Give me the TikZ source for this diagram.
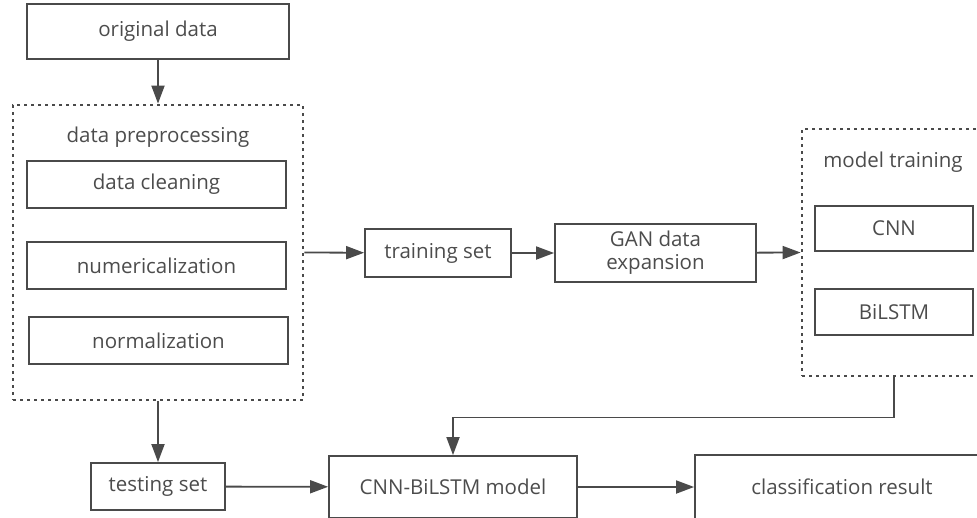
\documentclass[tikz,border=0pt]{standalone}
\usepackage{fontspec}
\setmainfont{Open Sans}
\usetikzlibrary{arrows.meta}
\definecolor{linegray}{HTML}{4A4A4A}
\definecolor{textgray}{HTML}{4C4C4C}
\tikzset{
    box/.style={draw=linegray, line width=1.8pt, rectangle, inner sep=0pt,
        text=textgray, font=\fontsize{20.5}{23}\selectfont, align=center},
    groupbox/.style={draw=linegray, line width=2.8pt, dash pattern=on 3pt off 4pt,
        rectangle, inner sep=0pt},
    grouplabel/.style={text=textgray, font=\fontsize{20.5}{23}\selectfont},
    arr/.style={draw=linegray, line width=1.8pt, -{Triangle[length=18pt, width=13pt]}}
}
\begin{document}
\begin{tikzpicture}[x=1pt, y=-1pt]
    \path[use as bounding box, clip] (0,0) rectangle (977,517);

    \node[box, minimum width=262pt, minimum height=55pt] (orig) at (158,31.5) {original data};

    % preprocessing group
    \node[groupbox, minimum width=290pt, minimum height=295pt] (prep) at (158,252.5) {};
    \node[grouplabel] (preplabel) at (158,137) {data preprocessing};
    \node[box, minimum width=259pt, minimum height=47pt] (clean) at (156.5,184.5) {data cleaning};
    \node[box, minimum width=259pt, minimum height=47pt] (numer) at (156.5,265.5) {numericalization};
    \node[box, minimum width=259pt, minimum height=47pt] (norm) at (158.5,340.5) {normalization};

    \node[box, minimum width=146pt, minimum height=48pt] (train) at (438,253) {training set};
    \node[box, minimum width=201pt, minimum height=58pt] (gan) at (655.5,253) {GAN data\\expansion};

    % training group
    \node[groupbox, minimum width=184pt, minimum height=247pt] (mtrain) at (894,252.5) {};
    \node[grouplabel] (mlabel) at (893,162) {model training};
    \node[box, minimum width=158pt, minimum height=45pt] (cnn) at (894,228.5) {CNN};
    \node[box, minimum width=158pt, minimum height=46pt] (bilstm) at (894,312) {BiLSTM};

    \node[box, minimum width=134pt, minimum height=47pt] (test) at (158,486.5) {testing set};
    \node[box, minimum width=248pt, minimum height=62pt] (cnnbil) at (453,487) {CNN-BiLSTM model};
    \node[box, minimum width=294pt, minimum height=64pt] (result) at (842,487) {classification result};

    \draw[arr] (orig) -- (prep);
    \draw[arr] (prep.east) -- (train);
    \draw[arr] (train) -- (gan);
    \draw[arr] (gan) -- (mtrain.west);
    \draw[arr] (prep) -- (test);
    \draw[arr] (mtrain.south) -- ++(0,40) -| (cnnbil.north);
    \draw[arr] (test) -- (cnnbil);
    \draw[arr] (cnnbil) -- (result);
\end{tikzpicture}
\end{document}
